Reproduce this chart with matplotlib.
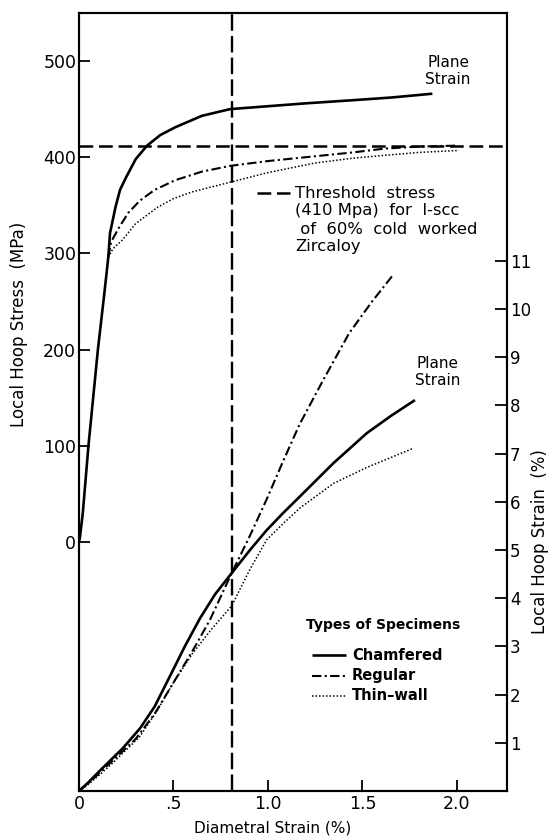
import matplotlib.pyplot as plt
from matplotlib.lines import Line2D

# ---- data ------------------------------------------------------------------
# upper family: local hoop stress (MPa) vs diametral strain (%)
cham_stress_x = [0.0, 0.005, 0.02, 0.05, 0.10, 0.135, 0.155, 0.164, 0.193, 0.217, 0.249,
                 0.30, 0.36, 0.43, 0.508, 0.65, 0.80, 1.0, 1.2, 1.43, 1.65, 1.87]
cham_stress_y = [0, 5, 30, 100, 200, 260, 296, 321, 348, 366, 379,
                 398, 412, 423, 431, 443, 450, 453, 456, 459, 462, 466]

reg_stress_x = [0.155, 0.17, 0.212, 0.26, 0.323, 0.40, 0.508, 0.65, 0.80, 1.0, 1.25,
                1.45, 1.62, 1.80, 1.99]
reg_stress_y = [296, 312, 327, 342, 355, 366, 376, 385, 391, 396, 401, 405, 409, 411, 412]

thin_stress_x = [0.155, 0.18, 0.23, 0.30, 0.416, 0.50, 0.60, 0.80, 1.0, 1.25, 1.45,
                 1.62, 1.80, 2.01]
thin_stress_y = [296, 305, 314, 331, 348, 357, 364, 374, 384, 394, 399, 402, 405, 407]

# lower family: local hoop strain (%) vs diametral strain (%)
cham_strain_x = [0.0, 0.05, 0.11, 0.17, 0.23, 0.27, 0.323, 0.40, 0.49, 0.56, 0.64, 0.72,
                 0.808, 0.905, 0.993, 1.081, 1.169, 1.346, 1.522, 1.65, 1.778]
cham_strain_y = [0.0, 0.18, 0.42, 0.65, 0.88, 1.06, 1.30, 1.75, 2.45, 3.00, 3.58, 4.08,
                 4.52, 5.00, 5.41, 5.77, 6.11, 6.80, 7.42, 7.78, 8.11]

reg_strain_x = [0.0, 0.05, 0.11, 0.17, 0.23, 0.30, 0.40, 0.508, 0.60, 0.693, 0.808,
                0.905, 0.993, 1.081, 1.169, 1.293, 1.43, 1.55, 1.667]
reg_strain_y = [0.0, 0.16, 0.38, 0.60, 0.82, 1.08, 1.60, 2.30, 2.90, 3.55, 4.52,
                5.30, 6.05, 6.85, 7.62, 8.53, 9.50, 10.15, 10.73]

thin_strain_x = [0.0, 0.05, 0.11, 0.17, 0.23, 0.32, 0.416, 0.50, 0.60, 0.70, 0.808,
                 0.86, 0.905, 0.993, 1.081, 1.169, 1.346, 1.522, 1.769]
thin_strain_y = [0.0, 0.14, 0.34, 0.55, 0.78, 1.12, 1.68, 2.25, 2.85, 3.35, 3.84,
                 4.25, 4.60, 5.21, 5.55, 5.87, 6.38, 6.71, 7.11]

threshold_stress = 412
marker_diam = 0.81

stress_ticks = [0, 100, 200, 300, 400, 500]
strain_ticks = [1, 2, 3, 4, 5, 6, 7, 8, 9, 10, 11]
x_ticks = [0, 0.5, 1.0, 1.5, 2.0]
x_ticklabels = ["0", ".5", "1.0", "1.5", "2.0"]

# ---- styles -------------------------------------------------------------------
W, H = 549, 839
plt.rcParams["font.family"] = ["DejaVu Sans"]

solid = dict(color="black", lw=1.9, solid_capstyle="butt")
dashdot = dict(color="black", lw=1.5, dashes=(4.5, 1.6, 1.0, 1.6))
dotted = dict(color="black", lw=1.1, dashes=(1.0, 1.3))
thresh = dict(color="black", lw=1.8, dashes=(5.5, 2.3))


def px(x, y):
    return x / W, 1 - y / H


fig = plt.figure(figsize=(W / 100, H / 100), dpi=100)
fig.patch.set_facecolor("white")
ax = fig.add_axes([79 / W, 1 - 791 / H, (507 - 79) / W, (791 - 13) / H])
ax2 = ax.twinx()

# stress curves
ax.plot(cham_stress_x, cham_stress_y, **solid)
ax.plot(reg_stress_x, reg_stress_y, **dashdot)
ax.plot(thin_stress_x, thin_stress_y, **dotted)
ax.axhline(threshold_stress, **thresh)
ax.axvline(marker_diam, color="black", lw=1.7, dashes=(7, 2.2))

# strain curves
ax2.plot(cham_strain_x, cham_strain_y, **solid)
ax2.plot(reg_strain_x, reg_strain_y, **dashdot)
ax2.plot(thin_strain_x, thin_strain_y, **dotted)

ax.set_xlim(0, 2.265)
ax.set_ylim(-258.8, 549.9)
ax2.set_ylim(0, 16.14)

ax.set_xticks(x_ticks)
ax.set_xticklabels(x_ticklabels)
ax.set_yticks(stress_ticks)
ax.set_yticklabels([str(v) for v in stress_ticks])
ax2.set_yticks(strain_ticks)
ax2.set_yticklabels([str(v) for v in strain_ticks])

ax.tick_params(axis="both", direction="in", length=8, width=1.3, labelsize=12.5, pad=3)
ax.tick_params(axis="y", pad=2)
ax2.tick_params(axis="y", direction="in", length=9, width=1.3, labelsize=12, pad=2)
for a in (ax, ax2):
    for s in a.spines.values():
        s.set_linewidth(1.5)

# axis titles
fig.text(*px(19, 324), "Local Hoop Stress  (MPa)", rotation=90, ha="center", va="center", fontsize=12)
fig.text(*px(540, 542), "Local Hoop Strain  (%)", rotation=90, ha="center", va="center", fontsize=12)
fig.text(*px(273, 828), "Diametral Strain (%)", ha="center", va="center", fontsize=11)

# annotations
fig.text(*px(448, 71), "Plane\nStrain", ha="center", va="center", fontsize=11, linespacing=1.1)
fig.text(*px(438, 372), "Plane\nStrain", ha="center", va="center", fontsize=11, linespacing=1.1)

fig.add_artist(Line2D([257 / W, 290 / W], [1 - 193 / H, 1 - 193 / H], transform=fig.transFigure, **thresh))
thresh_lines = ["Threshold  stress", "(410 Mpa)  for  I-scc", " of  60%  cold  worked", "Zircaloy"]
for i, t in enumerate(thresh_lines):
    fig.text(*px(295, 193 + 18 * i), t, ha="left", va="center", fontsize=11.8)

# specimen legend
fig.text(*px(306, 625), "Types of Specimens", ha="left", va="center", fontsize=10, fontweight="bold")
legend_items = [("Chamfered", solid), ("Regular", dashdot), ("Thin\u2013wall", dotted)]
for i, (name, style) in enumerate(legend_items):
    yy = 1 - (655 + 20.5 * i) / H
    fig.add_artist(Line2D([312 / W, 346 / W], [yy, yy], transform=fig.transFigure, **style))
    fig.text(352 / W, yy, name, ha="left", va="center", fontsize=10.5, fontweight="bold")

fig.savefig("out.png", dpi=100, facecolor="white")
